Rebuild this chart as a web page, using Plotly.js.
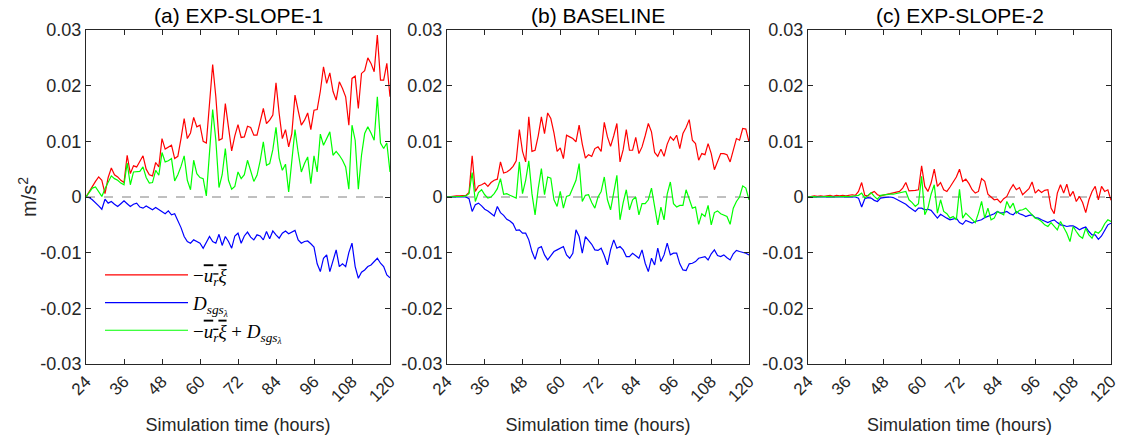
<!DOCTYPE html>
<html><head><meta charset="utf-8">
<script src="https://cdn.plot.ly/plotly-3.0.1.min.js"></script>
<style>html,body{margin:0;padding:0;background:#fff}#chart{width:1127px;height:441px}</style>
</head><body><div id="chart"></div>
<script>
// Values in units of 1e-3 m/s^2, hourly from 24 h to 120 h
const hourStart = 24, hourEnd = 120;
const xTickVals = [24, 36, 48, 60, 72, 84, 96, 108, 120];
const xTickText = ["24", "36", "48", "60", "72", "84", "96", "108", "120"];
const yTickVals = [-0.03, -0.02, -0.01, 0, 0.01, 0.02, 0.03];
const yTickText = ["-0.03", "-0.02", "-0.01", "0", "0.01", "0.02", "0.03"];
const panelTitles = ["(a) EXP-SLOPE-1", "(b) BASELINE", "(c) EXP-SLOPE-2"];
const yTitle = "m/s<sup>2</sup>";
const xTitle = "Simulation time (hours)";
const seriesNames = [
  "−<span style='text-decoration:overline'><i>u<sub>r</sub></i></span><span style='text-decoration:overline'><i>ξ</i></span>",
  "<i>D<sub>sgs<sub>λ</sub></sub></i>",
  "−<span style='text-decoration:overline'><i>u<sub>r</sub></i></span><span style='text-decoration:overline'><i>ξ</i></span> + <i>D<sub>sgs<sub>λ</sub></sub></i>"
];

const redA = [
  0, 1.0, 2.0, 2.8, 3.6, 3.0, 0.6, 3.5, 5.2, 4.0, 3.6, 3.0,
  2.6, 7.5, 4.2, 5.6, 5.4, 6.5, 7.4, 5.0, 4.0, 3.8, 6.2, 5.4,
  10.5, 8.6, 9.0, 9.3, 6.9, 7.3, 10.5, 14.1, 10.5, 11.5, 14.3, 12.6,
  12.9, 10.0, 9.7, 17.0, 23.8, 18.0, 10.2, 10.5, 16.8, 12.5, 8.3, 11.0,
  13.0, 10.7, 10.8, 12.7, 12.5, 11.1, 11.1, 13.5, 15.9, 13.2, 13.8, 14.7,
  20.5, 15.0, 10.5, 12.1, 9.0, 11.4, 18.3, 15.5, 12.9, 13.8, 15.1, 12.1,
  15.6, 15.7, 19.0, 23.4, 20.4, 22.3, 19.0, 17.4, 20.7, 19.5, 18.0, 12.9,
  21.3, 21.7, 15.9, 22.2, 22.7, 25.0, 24.0, 22.5, 29.1, 21.0, 21.0, 24.0,
  18.0];
const blueA = [
  0, -0.1, -0.5, -1.0, -1.6, -2.2, -0.4, -1.1, -0.8, -1.3, -1.7, -1.2,
  -0.7, -1.2, -1.7, -1.3, -1.1, -1.8, -2.0, -1.6, -2.0, -2.3, -1.9, -2.3,
  -2.6, -3.0, -2.5, -3.2, -3.0, -4.2, -5.5, -7.1, -8.0, -8.3, -7.7, -8.0,
  -8.3, -9.2, -8.0, -7.1, -8.0, -8.3, -6.7, -8.7, -7.1, -8.0, -9.2, -7.0,
  -6.5, -8.3, -7.0, -6.3, -7.2, -7.7, -6.8, -7.0, -7.7, -6.2, -7.5, -6.1,
  -6.8, -7.4, -6.5, -6.1, -6.6, -6.3, -6.0, -7.7, -8.3, -8.0, -7.9, -8.4,
  -9.0, -12.0, -13.4, -11.0, -10.4, -13.4, -11.5, -9.5, -12.5, -12.0, -12.5, -10.0,
  -8.3, -12.5, -14.6, -13.5, -13.1, -12.5, -12.2, -11.5, -11.0, -11.9, -12.5, -14.0,
  -14.5];
const greenA = [
  0, 0.8, 1.6, 1.8, 1.0, 0.1, 1.5, 2.8, 3.8, 3.3, 3.0, 2.5,
  2.2, 6.1, 2.2, 4.5, 4.5, 4.6, 5.4, 3.5, 2.5, 2.6, 4.8, 3.9,
  8.0, 6.3, 6.5, 6.9, 2.9, 4.0, 5.5, 7.4, 3.0, 1.3, 6.6, 4.2,
  3.5, 3.3, 0.2, 8.0, 15.7, 10.2, 1.7, 4.0, 8.7, 3.0, 1.4, 1.9,
  4.5, 3.3, 4.0, 6.6, 4.5, 2.8, 3.9, 6.5, 9.9, 5.7, 6.0, 8.5,
  12.5, 7.0, 4.8, 5.9, 0.9, 6.0, 12.1, 8.0, 4.5, 6.0, 7.2, 2.4,
  7.4, 4.5, 11.3, 9.3, 10.5, 11.7, 7.5, 8.2, 7.5, 6.6, 5.4, 1.4,
  12.9, 10.2, 1.4, 7.5, 11.4, 12.6, 11.5, 10.2, 18.0, 9.7, 8.7, 9.7,
  4.5];

const redB = [
  0, 0.1, 0.1, 0.2, 0.2, 0.2, 0.3, 0.8, 7.4, 1.0, 2.0, 2.2,
  2.5, 1.9, 2.6, 3.0, 3.2, 6.3, 4.3, 4.5, 4.9, 5.5, 6.5, 12.1,
  8.2, 6.3, 14.4, 8.2, 8.4, 11.0, 14.4, 11.4, 15.1, 14.1, 11.5, 8.2,
  8.8, 6.9, 11.1, 10.8, 10.5, 9.9, 12.9, 9.5, 7.0, 7.6, 7.3, 8.7,
  9.0, 8.2, 13.4, 10.8, 9.1, 11.0, 13.2, 6.3, 8.5, 12.1, 8.4, 8.4,
  10.7, 7.8, 9.0, 11.0, 13.2, 11.7, 8.0, 7.3, 8.6, 7.3, 9.5, 10.8,
  10.2, 11.1, 8.7, 11.4, 12.5, 13.9, 10.2, 9.6, 6.6, 7.8, 7.6, 9.6,
  7.8, 4.9, 6.5, 7.8, 7.8, 7.6, 6.3, 8.5, 10.5, 10.2, 12.3, 12.2,
  9.9];
const blueB = [
  0, 0, 0, 0, 0, 0, 0, -0.3, -2.6, -1.4, -1.1, -1.6,
  -2.2, -2.5, -2.9, -3.4, -1.7, -2.8, -3.3, -4.0, -4.3, -4.8, -6.0, -5.9,
  -6.5, -6.5, -7.7, -9.8, -11.2, -9.2, -8.9, -10.4, -11.3, -10.5, -9.8, -9.5,
  -9.2, -8.9, -10.4, -11.0, -10.1, -5.9, -7.1, -10.1, -7.1, -7.8, -8.5, -9.5,
  -9.6, -9.2, -10.5, -12.2, -9.5, -7.7, -9.2, -8.9, -9.5, -10.7, -10.7, -10.1,
  -10.5, -11.0, -9.5, -11.9, -13.4, -11.0, -12.2, -9.2, -11.6, -10.4, -8.3, -10.4,
  -10.1, -10.1, -12.0, -13.1, -13.2, -12.0, -11.9, -11.6, -11.0, -10.8, -10.7, -11.3,
  -10.2, -9.5, -10.5, -10.7, -10.4, -10.9, -11.3, -10.2, -9.6, -9.8, -9.9, -10.1,
  -10.4];
const greenB = [
  0, 0, 0, 0, 0.05, 0.1, 0.2, 0.6, 4.4, -0.8, 0.8, 1.3,
  0.4, -0.2, 0.0, 0.6, 1.5, 3.3, 0.5, 0.6, 0.3, 0.1, -0.2, 6.3,
  0.6, 3.0, 6.5, 0.6, -3.2, 1.5, 5.1, 0.4, 3.6, 3.4, -0.5, -1.7,
  1.0, -2.0, 0.1, 0.3, 1.8, 3.0, 6.0, -0.8, 0.3, 0.4, -1.0, -2.0,
  0.0, 1.0, 3.6, -0.5, -2.3, 1.0, 3.9, -4.1, -1.0, 1.3, -2.3, -0.5,
  0.0, -3.2, -1.2, -1.2, -0.5, 1.6, -2.0, -5.0, -1.8, -4.1, 0.5, 2.7,
  -1.2, -1.8, -1.5, -1.5, 1.3, -0.5, -2.0, -1.8, -4.9, -3.0, -3.5, -1.5,
  -5.0, -2.8, -2.5, -3.0, -3.2, -3.5, -4.9, -2.0, -0.8, 0.0, 2.0, 1.6,
  -0.5];

const redC = [
  0, 0.1, 0.2, 0.1, 0.2, 0.1, 0.2, 0.3, 0.1, 0.3, 0.2, 0.3,
  0.2, 0.3, 0.4, 0.3, 1.0, 2.6, 0.3, 0.2, 0.7, 1.0, 0.4, 0.2,
  0.4, 0.5, 0.6, 0.7, 0.9, 1.0, 1.6, 2.6, 1.1, 1.1, 1.2, 1.3,
  5.6, 1.9, 1.0, 2.5, 5.0, 1.9, 2.6, 1.3, 1.0, 1.8, 2.7, 3.6,
  5.0, 2.8, 3.2, 2.4, 1.3, 0.7, 1.0, 3.3, 2.8, 0.5, 0.0, -0.5,
  -0.4, -1.0, -0.3, 0.1, 1.3, 2.2, 1.3, 1.7, 0.4, 1.0, 1.5, 2.7,
  0.7, 1.3, 0.8, 1.2, 1.3, -2.0, -3.0, 0.7, 2.2, 0.7, 2.3, 0.1,
  1.0, -0.8, 0.1, -1.0, -2.8, -0.5, 1.0, 1.9, -0.5, 1.9, 1.0, 1.3,
  -0.6];
const blueC = [
  0, 0, 0, 0, 0, 0, 0, 0, 0, 0, 0, 0,
  0, 0, 0, 0, -0.2, -1.8, -0.3, -0.1, -0.2, -0.6, -0.8, -0.2,
  -0.1, 0.0, 0.0, -0.1, -0.4, -0.6, -1.0, -1.3, -1.8, -2.2, -2.6, -2.0,
  -2.0, -2.3, -2.2, -2.4, -3.2, -3.8, -3.1, -3.5, -3.8, -4.1, -4.0, -3.8,
  -4.6, -4.9, -4.2, -4.5, -4.7, -4.4, -4.3, -4.1, -3.7, -3.5, -3.2, -3.0,
  -2.6, -2.9, -2.8, -2.6, -3.0, -3.2, -2.6, -3.0, -3.2, -3.5, -3.3, -3.2,
  -3.7, -3.8, -4.1, -4.4, -4.6, -4.3, -4.1, -4.6, -5.0, -5.1, -5.3, -5.2,
  -5.2, -5.5, -5.9, -5.6, -5.4, -6.2, -6.8, -6.8, -7.6, -7.0, -5.9, -5.0,
  -4.7];
const greenC = [
  0, 0.05, 0.05, 0, 0.05, 0, 0.05, 0.1, 0, 0.05, 0.1, 0.05,
  0.1, 0.05, 0.1, 0.2, 0.3, 0.7, -0.2, 0.3, 0.8, 0.1, -0.4, 0.3,
  0.4, 0.4, 0.5, 0.5, 0.6, 0.7, 0.9, 1.0, -0.5, -1.0, -1.7, -1.2,
  3.7, -3.2, -2.0, 0.5, 2.2, -2.9, -0.5, -2.6, -3.0, -3.8, -3.5, -4.1,
  1.4, -3.8, -2.9, -3.5, -4.1, -4.6, -2.9, -0.8, -3.8, -2.0, -4.1, -3.8,
  -2.6, -2.9, -3.2, -0.8, -2.0, -1.1, -2.9, -2.4, -2.3, -2.0, -2.6, -3.2,
  -3.8, -4.0, -4.4, -5.0, -5.3, -4.6, -5.2, -5.9, -4.4, -5.5, -6.5, -8.0,
  -5.3, -6.2, -7.0, -7.4, -5.6, -6.8, -7.4, -6.2, -6.5, -5.9, -4.8, -4.1,
  -4.4];

const hours = [];
for (let h = hourStart; h <= hourEnd; h++) hours.push(h);
const toSI = arr => arr.map(v => v / 1000);

const panels = [
  {red: redA, blue: blueA, green: greenA},
  {red: redB, blue: blueB, green: greenB},
  {red: redC, blue: blueC, green: greenC}
];
const colors = ["#ff0000", "#0000ff", "#00ff00"];
const traces = [];
panels.forEach((p, i) => {
  const sfx = i === 0 ? "" : String(i + 1);
  [p.red, p.blue, p.green].forEach((arr, k) => {
    traces.push({
      type: "scatter", mode: "lines", x: hours, y: toSI(arr),
      xaxis: "x" + sfx, yaxis: "y" + sfx,
      name: seriesNames[k], showlegend: i === 0,
      line: {color: colors[k], width: 1.2},
      hoverinfo: "skip"
    });
  });
});

const W = 1127, H = 441;
const xDomains = [[86 / W, 390 / W], [447 / W, 749 / W], [808 / W, 1111 / W]];
const yDomain = [1 - 364 / H, 1 - 30 / H];
const axColor = "#262626";
const fontFam = "Liberation Sans, Arial, sans-serif";

const layout = {
  width: W, height: H,
  margin: {l: 0, r: 0, t: 0, b: 0},
  paper_bgcolor: "#ffffff", plot_bgcolor: "#ffffff",
  font: {family: fontFam, size: 18, color: axColor},
  showlegend: true,
  legend: {
    x: 100 / W, y: 1 - 256 / H, xanchor: "left", yanchor: "top",
    bgcolor: "rgba(0,0,0,0)", borderwidth: 0, itemwidth: 83,
    font: {family: "Liberation Serif, DejaVu Serif, serif", size: 19, color: "#000"},
    tracegroupgap: 0
  },
  shapes: [],
  annotations: [{
    xref: "paper", yref: "paper", x: 27 / W, y: 1 - 197 / H,
    xanchor: "center", yanchor: "middle", textangle: -90, showarrow: false,
    text: yTitle, font: {family: fontFam, size: 20, color: axColor}
  }]
};
xDomains.forEach((dom, i) => {
  const sfx = i === 0 ? "" : String(i + 1);
  layout["xaxis" + sfx] = {
    domain: dom, anchor: "y" + sfx, range: [hourStart, hourEnd],
    tickmode: "array", tickvals: xTickVals, ticktext: xTickText, tickangle: -45,
    ticks: "inside", ticklen: 5, tickcolor: axColor, tickwidth: 1,
    showline: true, linecolor: axColor, linewidth: 1, mirror: "ticks",
    showgrid: false, zeroline: false,
    tickfont: {family: fontFam, size: 17, color: axColor},
    title: {text: xTitle, font: {family: fontFam, size: 18, color: axColor}, standoff: 13}
  };
  layout["yaxis" + sfx] = {
    domain: yDomain, anchor: "x" + sfx, range: [-0.03, 0.03],
    tickmode: "array", tickvals: yTickVals, ticktext: yTickText,
    ticks: "inside", ticklen: 5, tickcolor: axColor, tickwidth: 1,
    showline: true, linecolor: axColor, linewidth: 1, mirror: "ticks",
    showgrid: false, zeroline: false,
    tickfont: {family: fontFam, size: 18, color: axColor}
  };
  layout.shapes.push({
    type: "line", xref: "x" + sfx, yref: "y" + sfx,
    x0: hourStart, x1: hourEnd, y0: 0, y1: 0,
    line: {color: "#808080", width: 1, dash: "dash"}, layer: "below"
  });
  layout.annotations.push({
    xref: "x" + sfx + " domain", yref: "paper", x: 0.5, y: 1 - 15 / H,
    xanchor: "center", yanchor: "middle", showarrow: false,
    text: panelTitles[i], font: {family: fontFam, size: 21, color: "#000"}
  });
});

Plotly.newPlot("chart", traces, layout, {staticPlot: true, displayModeBar: false});
</script>
</body></html>
